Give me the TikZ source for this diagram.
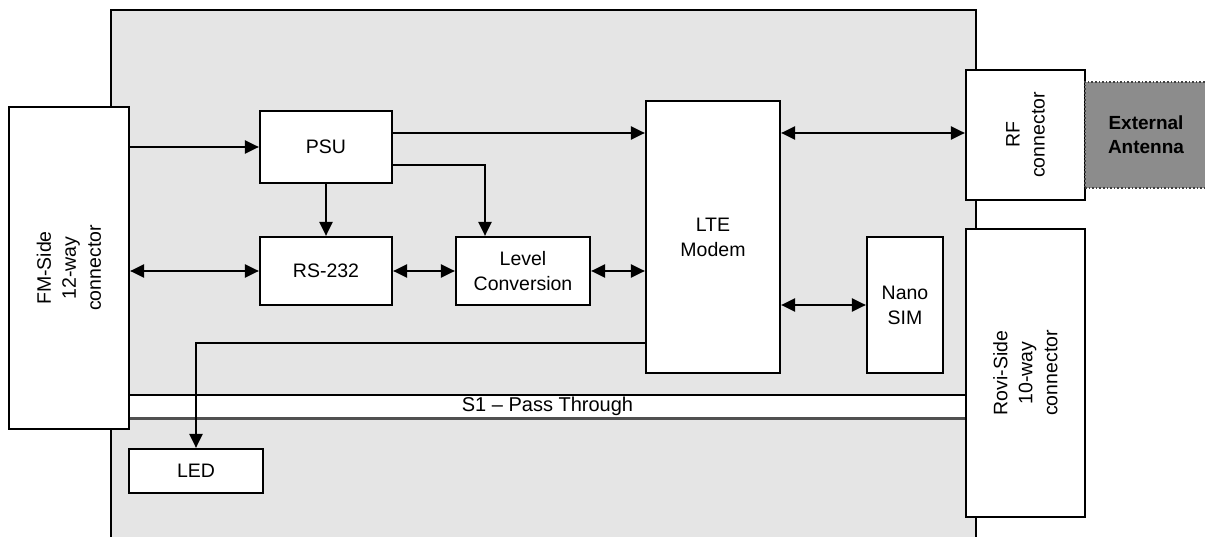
\documentclass[tikz,border=0pt]{standalone}
\usepackage{fontspec}
\setmainfont{Liberation Sans}
\usetikzlibrary{arrows.meta}
\definecolor{boardgray}{RGB}{229,229,229}
\definecolor{antgray}{RGB}{140,140,140}
\definecolor{bandline}{RGB}{80,80,80}
\begin{document}
\begin{tikzpicture}[x=1pt,y=-1pt,
  box/.style={draw, fill=white, line width=2.2pt, inner sep=0pt, align=center,
    font=\fontsize{19.5}{25}\selectfont},
  vbox/.style={box, rotate=90},
  arr/.style={line width=2.2pt, -{Triangle[length=14pt,width=13pt]}},
  darr/.style={line width=2.2pt, {Triangle[length=14pt,width=13pt]}-{Triangle[length=14pt,width=13pt]}}]
\useasboundingbox (0,0) rectangle (1205,537);
% board
\path[fill=boardgray, draw=black, line width=2.2pt] (111,10) rectangle (976,560);
% band
\node[fill=white, inner sep=0pt, minimum width=837pt, minimum height=23pt,
  font=\fontsize{20}{24}\selectfont] (S1) at (547.5,406.5) {S1 -- Pass Through};
\draw[line width=1.6pt] (S1.north west) -- (S1.north east);
\draw[line width=2.6pt, bandline] (S1.south west) -- (S1.south east);
% nodes
\node[vbox, minimum width=322pt, minimum height=120pt] (FM) at (69,268) {FM-Side\\12-way\\connector};
\node[box, minimum width=132pt, minimum height=72pt] (PSU) at (326,147) {PSU};
\node[box, minimum width=132pt, minimum height=68pt] (RS) at (326,271) {RS-232};
\node[box, minimum width=134pt, minimum height=68pt] (LC) at (523,271) {Level\\Conversion};
\node[box, minimum width=134pt, minimum height=272pt] (LTE) at (713,237) {LTE\\Modem};
\node[box, minimum width=76pt, minimum height=136pt] (SIM) at (905,305) {Nano\\SIM};
\node[vbox, minimum width=130pt, minimum height=119pt] (RF) at (1025.5,135) {RF\\connector};
\node[draw=black!75, dotted, line width=1.6pt, fill=antgray, inner sep=0pt,
  minimum width=122pt, minimum height=106pt, align=center,
  font=\fontsize{19}{24}\selectfont\bfseries] (ANT) at (1146,135) {External\\Antenna};
\node[vbox, minimum width=288pt, minimum height=119pt] (ROVI) at (1025.5,373) {Rovi-Side\\10-way\\connector};
\node[box, minimum width=134pt, minimum height=44pt] (LED) at (196,471) {LED};
% connectors
\draw[arr] (FM.south |- PSU.west) -- (PSU.west);
\draw[arr] (PSU.east |- 0,133) -- (LTE.west |- 0,133);
\draw[darr] (LTE.east |- 0,133) -- (RF.north |- 0,133);
\draw[arr] (PSU.east |- 0,165) -| (LC.north -| 485,0);
\draw[arr] (PSU.south) -- (RS.north);
\draw[darr] (FM.south |- RS.west) -- (RS.west);
\draw[darr] (RS.east) -- (LC.west);
\draw[darr] (LC.east) -- (LTE.west |- LC.east);
\draw[darr] (LTE.east |- SIM.west) -- (SIM.west);
\draw[arr] (LTE.west |- 0,343) -| (LED.north);
\end{tikzpicture}
\end{document}
